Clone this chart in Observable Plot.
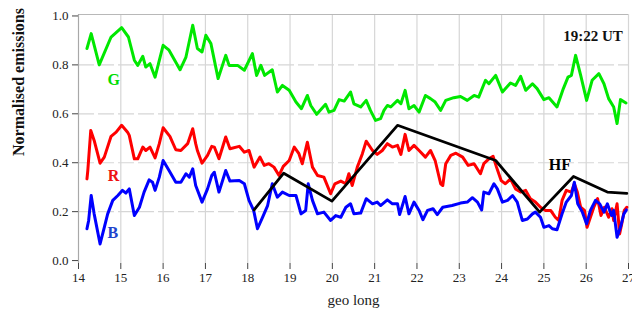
<!DOCTYPE html>
<html>
<head>
<meta charset="utf-8">
<script src="https://cdn.jsdelivr.net/npm/d3@7"></script>
<script src="https://cdn.jsdelivr.net/npm/@observablehq/plot@0.6"></script>
<style>
  html, body { margin: 0; padding: 0; background: #ffffff; }
  #chart { width: 632px; height: 311px; }
</style>
</head>
<body>
<div id="chart"></div>
<script>
// ---- data ----
const gLon = [14.2,14.3,14.49,14.77,15.02,15.18,15.32,15.4,15.52,15.59,15.69,15.81,16.0,16.14,16.4,16.54,16.7,16.81,16.92,17.01,17.13,17.3,17.48,17.56,17.76,17.92,18.11,18.21,18.31,18.4,18.58,18.7,18.82,18.98,19.14,19.27,19.41,19.49,19.63,19.84,19.92,20.04,20.16,20.28,20.43,20.51,20.67,20.8,20.9,21.02,21.14,21.22,21.3,21.38,21.54,21.62,21.72,21.81,21.93,22.05,22.2,22.32,22.43,22.56,22.68,22.87,23.03,23.19,23.35,23.46,23.62,23.7,23.86,24.02,24.21,24.33,24.45,24.57,24.73,24.84,25.0,25.12,25.31,25.46,25.57,25.65,25.75,25.87,26.01,26.14,26.3,26.42,26.53,26.65,26.73,26.81,26.94];
const gVal = [0.867,0.928,0.80,0.914,0.952,0.914,0.819,0.798,0.835,0.791,0.805,0.75,0.88,0.86,0.78,0.832,0.962,0.867,0.853,0.921,0.887,0.744,0.839,0.798,0.798,0.778,0.846,0.757,0.798,0.757,0.78,0.689,0.716,0.696,0.648,0.621,0.675,0.634,0.598,0.639,0.607,0.614,0.658,0.652,0.689,0.641,0.628,0.655,0.614,0.573,0.58,0.614,0.634,0.628,0.655,0.641,0.696,0.621,0.634,0.607,0.675,0.662,0.648,0.614,0.655,0.666,0.671,0.655,0.675,0.668,0.737,0.723,0.757,0.689,0.726,0.716,0.753,0.696,0.723,0.703,0.658,0.666,0.628,0.703,0.75,0.757,0.839,0.757,0.655,0.737,0.764,0.723,0.662,0.628,0.56,0.658,0.644];

const rLon = [14.2,14.22,14.29,14.37,14.51,14.61,14.77,14.89,15.02,15.16,15.2,15.32,15.4,15.52,15.59,15.69,15.81,15.91,16.0,16.16,16.3,16.42,16.58,16.7,16.77,16.81,16.92,17.05,17.15,17.21,17.32,17.48,17.58,17.8,17.92,18.03,18.15,18.29,18.39,18.5,18.62,18.74,18.84,18.98,19.1,19.21,19.29,19.41,19.53,19.65,19.8,19.96,20.06,20.2,20.32,20.39,20.47,20.59,20.71,20.8,20.95,21.06,21.18,21.3,21.42,21.54,21.62,21.72,21.81,21.93,22.05,22.2,22.32,22.43,22.56,22.61,22.68,22.8,22.92,23.08,23.21,23.35,23.5,23.58,23.7,23.8,23.88,23.99,24.09,24.21,24.33,24.45,24.57,24.68,24.8,24.92,25.04,25.16,25.27,25.35,25.43,25.53,25.65,25.72,25.79,25.87,25.96,26.02,26.1,26.18,26.27,26.35,26.43,26.53,26.61,26.65,26.73,26.79,26.84,26.9,26.96];
const rVal = [0.334,0.368,0.532,0.491,0.398,0.423,0.508,0.525,0.553,0.525,0.512,0.416,0.416,0.464,0.45,0.464,0.42,0.478,0.543,0.508,0.453,0.45,0.478,0.539,0.478,0.45,0.398,0.43,0.467,0.464,0.416,0.505,0.457,0.467,0.443,0.45,0.382,0.423,0.389,0.396,0.382,0.348,0.385,0.409,0.464,0.437,0.396,0.484,0.382,0.348,0.341,0.273,0.314,0.325,0.314,0.355,0.307,0.382,0.437,0.488,0.45,0.434,0.45,0.478,0.464,0.471,0.434,0.516,0.45,0.471,0.45,0.423,0.45,0.409,0.314,0.307,0.396,0.43,0.439,0.423,0.389,0.396,0.355,0.396,0.416,0.426,0.382,0.327,0.314,0.334,0.293,0.28,0.287,0.253,0.239,0.218,0.205,0.205,0.177,0.164,0.246,0.287,0.28,0.314,0.28,0.218,0.205,0.136,0.177,0.218,0.253,0.184,0.218,0.177,0.212,0.164,0.232,0.109,0.15,0.205,0.218];

const bLon = [14.2,14.24,14.3,14.37,14.51,14.61,14.69,14.81,14.93,15.04,15.12,15.2,15.32,15.44,15.55,15.67,15.75,15.81,15.91,16.0,16.14,16.3,16.42,16.54,16.62,16.7,16.77,16.92,17.05,17.15,17.21,17.32,17.48,17.58,17.8,17.92,18.03,18.14,18.23,18.35,18.47,18.58,18.7,18.82,18.98,19.14,19.26,19.37,19.43,19.53,19.65,19.8,19.96,20.08,20.2,20.32,20.43,20.51,20.67,20.8,20.95,21.06,21.14,21.3,21.42,21.54,21.59,21.72,21.81,21.93,22.05,22.14,22.25,22.38,22.48,22.61,22.83,23.03,23.19,23.31,23.43,23.53,23.58,23.7,23.82,23.9,24.02,24.14,24.26,24.37,24.49,24.61,24.73,24.8,24.92,25.0,25.12,25.2,25.31,25.43,25.53,25.65,25.72,25.8,25.91,26.01,26.1,26.22,26.32,26.42,26.5,26.6,26.65,26.73,26.81,26.89,26.95];
const bVal = [0.13,0.164,0.266,0.191,0.068,0.136,0.191,0.246,0.266,0.287,0.276,0.293,0.184,0.218,0.28,0.33,0.32,0.287,0.341,0.409,0.368,0.32,0.32,0.355,0.341,0.375,0.307,0.239,0.293,0.348,0.361,0.28,0.368,0.325,0.327,0.314,0.246,0.205,0.13,0.177,0.225,0.314,0.259,0.28,0.266,0.266,0.191,0.205,0.314,0.246,0.191,0.198,0.164,0.184,0.177,0.218,0.232,0.191,0.194,0.253,0.232,0.239,0.225,0.248,0.232,0.232,0.188,0.262,0.191,0.239,0.205,0.167,0.205,0.212,0.188,0.218,0.225,0.235,0.239,0.257,0.239,0.207,0.28,0.273,0.314,0.293,0.239,0.246,0.266,0.239,0.164,0.17,0.191,0.198,0.177,0.136,0.143,0.13,0.126,0.191,0.239,0.266,0.32,0.232,0.198,0.15,0.205,0.246,0.232,0.198,0.232,0.184,0.205,0.095,0.136,0.191,0.207];

const hfLon = [18.15,18.85,19.99,21.54,23.86,24.9,25.7,26.5,26.96];
const hfVal = [0.207,0.357,0.243,0.553,0.409,0.198,0.344,0.28,0.275];

const xTicks = [14,15,16,17,18,19,20,21,22,23,24,25,26,27];
const yTicks = [0.0,0.2,0.4,0.6,0.8,1.0];
const xTitle = "geo long";
const yTitle = "Normalised emissions";
const timeLabel = "19:22 UT";

// annotation labels: name, anchor longitude, anchor value
const labelNames = ["G","R","B","HF"];
const labelLon = [14.83,14.83,14.81,25.38];
const labelVal = [0.74,0.348,0.115,0.393];
const timeLon = 26.16, timeVal = 0.918;

// ---- build tables ----
const toRows = (lon, val) => lon.map((x, i) => ({lon: x, v: val[i]}));
const G = toRows(gLon, gVal), R = toRows(rLon, rVal), B = toRows(bLon, bVal), HF = toRows(hfLon, hfVal);
const labels = labelNames.map((n, i) => ({name: n, lon: labelLon[i], v: labelVal[i]}));

const cG = "#00e800", cR = "#ff0000", cB = "#0000ff", cHF = "#000000";
const labelColors = {G: "#00dd00", R: "#ee1111", B: "#2244cc", HF: "#000000"};
const serif = "'Liberation Serif','Times New Roman',Times,serif";
const yMin = -0.012, yMax = 1.006;

const chart = Plot.plot({
  width: 632,
  height: 311,
  marginLeft: 78,
  marginRight: 4,
  marginTop: 14,
  marginBottom: 48,
  style: {fontFamily: serif, fontSize: "13px", color: "#222", background: "transparent", overflow: "visible"},
  x: {domain: [14, 27]},
  y: {domain: [yMin, yMax]},
  marks: [
    Plot.gridX(xTicks.slice(1), {stroke: "#d6d6d6", strokeOpacity: 1, strokeWidth: 1.2}),
    Plot.gridY(yTicks.slice(1, -1), {stroke: "#d6d6d6", strokeOpacity: 1, strokeWidth: 1.2, strokeDasharray: "16,4"}),
    Plot.ruleY([yMax], {stroke: "#b8b8b8", strokeWidth: 1.2}),
    Plot.ruleX([14], {stroke: "#a8a8a8", strokeWidth: 1.2}),
    Plot.axisY(yTicks, {tickFormat: d3.format(".1f"), tickSize: 6, tickPadding: 4, fontSize: 13, stroke: "#444", label: null}),
    Plot.axisX(xTicks, {tickFormat: d => String(d), tickSize: 6, tickPadding: 3, fontSize: 13, stroke: "#444", label: null}),
    Plot.line(G, {x: "lon", y: "v", stroke: cG, strokeWidth: 3, strokeLinejoin: "round"}),
    Plot.line(R, {x: "lon", y: "v", stroke: cR, strokeWidth: 3, strokeLinejoin: "round"}),
    Plot.line(B, {x: "lon", y: "v", stroke: cB, strokeWidth: 3, strokeLinejoin: "round"}),
    Plot.line(HF, {x: "lon", y: "v", stroke: cHF, strokeWidth: 2.8, strokeLinejoin: "round"}),
    Plot.text(labels, {x: "lon", y: "v", text: "name", fill: d => labelColors[d.name], fontSize: 16, fontWeight: "bold", lineAnchor: "middle"}),
    Plot.text([timeLabel], {x: timeLon, y: timeVal, text: d => d, fill: "#111", fontSize: 15, fontWeight: "bold", lineAnchor: "middle"}),
    Plot.text([xTitle], {frameAnchor: "bottom", text: d => d, dy: 37, fontSize: 15, fill: "#222", lineAnchor: "middle"}),
    Plot.text([yTitle], {frameAnchor: "left", text: d => d, rotate: -90, dx: -60, dy: 17, fontSize: 16, fontWeight: "bold", fill: "#111", lineAnchor: "middle"})
  ]
});
document.getElementById("chart").appendChild(chart);
</script>
</body>
</html>
